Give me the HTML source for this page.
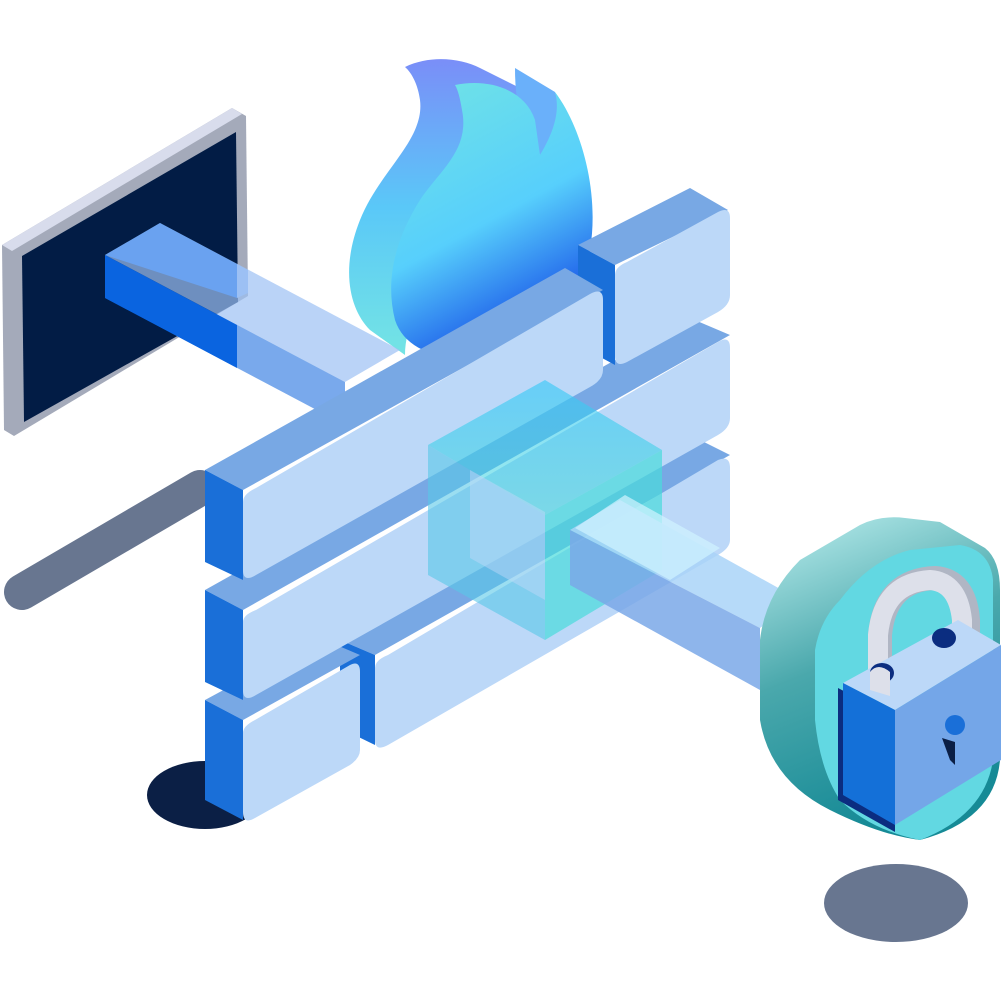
<!DOCTYPE html>
<html><head><meta charset="utf-8"><style>html,body{margin:0;padding:0;background:#fff}svg{display:block}</style></head><body>
<svg width="1001" height="1001" viewBox="0 0 1001 1001" xmlns="http://www.w3.org/2000/svg">
<defs>
<linearGradient id="fl" x1="0" y1="0" x2="0.4" y2="1"><stop offset="0" stop-color="#72e4e4"/><stop offset="0.6" stop-color="#57cffc"/><stop offset="1" stop-color="#1a55e8"/></linearGradient>
<linearGradient id="fb" x1="0" y1="0" x2="0" y2="1"><stop offset="0" stop-color="#7a8ef8"/><stop offset="0.5" stop-color="#5ac8f8"/><stop offset="1" stop-color="#74e4e4"/></linearGradient>
<linearGradient id="sh" x1="0" y1="0" x2="0.3" y2="1"><stop offset="0" stop-color="#bff0f0"/><stop offset="0.5" stop-color="#4aa8ac"/><stop offset="1" stop-color="#168a96"/></linearGradient>
<linearGradient id="cb" x1="0" y1="0" x2="0" y2="1"><stop offset="0" stop-color="#38c8f8" stop-opacity=".85"/><stop offset="1" stop-color="#40d8d8" stop-opacity=".7"/></linearGradient>
</defs>
<line x1="22" y1="592" x2="200" y2="488" stroke="#687690" stroke-width="36" stroke-linecap="round"/>
<ellipse cx="205" cy="795" rx="58" ry="34" fill="#0b1f45"/>
<ellipse cx="896" cy="903" rx="72" ry="39" fill="#687690"/>
<polygon points="2,245 232,108 246,116 248,296 14,436 4,430" fill="#a4aaba"/>
<polygon points="2,245 232,108 242,114 12,251" fill="#d8dcec"/>
<polygon points="22,256 236,132 238,302 24,422" fill="#021c45"/>
<path d="M405,67 C430,55 460,58 480,68 L520,88 L530,120 C500,150 470,180 450,230 C430,280 405,320 405,355 L370,330 C350,310 340,270 360,220 C380,170 425,140 420,100 C418,85 412,73 405,67Z" fill="url(#fb)"/>
<path d="M515,68 L555,92 C565,120 560,150 540,155 C520,130 515,100 515,68Z" fill="#6ab0fa"/>
<path d="M455,85 C490,78 525,90 535,120 L540,155 C555,130 560,110 555,92 C580,125 600,190 590,250 C580,300 540,340 480,355 C440,362 405,350 395,320 C385,280 395,240 420,200 C440,170 470,150 462,110 C460,98 458,90 455,85Z" fill="url(#fl)"/>
<!-- beam from monitor -->
<polygon points="105,255 160,223 400,350 345,382" fill="#9cc0f4" opacity=".7"/>
<polygon points="105,255 345,382 345,425 105,298" fill="#1f6fe0" opacity=".6"/>
<polygon points="105,255 160,223 237,264 237,298 " fill="#6aa2f0"/>
<polygon points="105,255 237,325 237,368 105,298" fill="#0a64e0"/>
<polygon points="237,298 237,264 248,270 248,293" fill="#9cc0f4"/>
<!-- wall row 3 -->
<polygon points="340,640 700,440 730,455 375,655" fill="#78a8e4"/>
<polygon points="340,640 375,655 375,745 340,728" fill="#1a6fd8"/>
<path d="M388,655 L718,460 Q730,455 730,468 L730,540 Q730,548 718,555 L388,745 Q375,752 375,740 L375,668 Q375,660 388,655Z" fill="#bcd8f8"/>
<polygon points="205,700 320,638 360,655 243,720" fill="#78a8e4"/>
<polygon points="205,700 243,720 243,820 205,800" fill="#1a6fd8"/>
<path d="M255,720 L350,665 Q360,660 360,672 L360,750 Q360,758 350,765 L255,818 Q243,825 243,812 L243,733 Q243,726 255,720Z" fill="#bcd8f8"/>
<polygon points="205,590 690,318 730,335 243,610" fill="#78a8e4"/>
<polygon points="205,590 243,610 243,700 205,682" fill="#1a6fd8"/>
<path d="M256,610 L718,342 Q730,335 730,348 L730,418 Q730,428 718,435 L256,695 Q243,703 243,690 L243,622 Q243,615 256,610Z" fill="#bcd8f8"/>
<polygon points="578,245 690,188 728,210 615,265" fill="#78a8e4"/>
<polygon points="578,245 615,265 615,365 578,345" fill="#1a6fd8"/>
<path d="M627,262 L718,212 Q730,206 730,218 L730,295 Q730,305 718,312 L627,362 Q615,368 615,356 L615,275 Q615,267 627,262Z" fill="#bcd8f8"/>
<polygon points="205,470 565,268 603,290 243,490" fill="#78a8e4"/>
<polygon points="205,470 243,490 243,580 205,562" fill="#1a6fd8"/>
<path d="M256,488 L590,294 Q603,287 603,300 L603,370 Q603,380 590,387 L256,575 Q243,583 243,570 L243,502 Q243,494 256,488Z" fill="#bcd8f8"/>
<!-- cube -->
<polygon points="428,445 545,380 662,450 545,515" fill="url(#cb)" opacity=".75"/>
<polygon points="428,445 545,515 545,640 428,575" fill="#58c8e8" opacity=".6"/>
<polygon points="545,515 662,450 662,570 545,640" fill="#48dcdc" opacity=".7"/>
<polygon points="470,470 545,512 545,600 470,558" fill="#bcd8f8" opacity=".5"/>
<!-- beam right -->
<polygon points="570,530 620,500 800,600 760,628" fill="#a9d4f8" opacity=".85"/>
<polygon points="570,530 760,628 760,690 570,585" fill="#7aa8e8" opacity=".85"/>
<polygon points="575,528 625,495 720,548 670,580" fill="#d0f4ff" opacity=".7"/>
<!-- lock -->
<path d="M800,560 L860,525 Q880,515 905,518 L940,522 L985,548 Q1000,560 1000,590 L1000,760 Q995,820 920,840 Q880,835 830,810 Q770,780 760,720 L760,640 Q765,595 800,560Z" fill="url(#sh)"/>
<path d="M840,600 Q870,560 910,550 L960,545 Q990,550 993,580 L993,760 Q985,815 920,840 Q870,830 840,800 Q820,770 815,720 L815,650 Q820,620 840,600Z" fill="#62d8e2"/>
<path d="M880,690 L880,635 Q885,580 935,578 Q965,580 968,620 L968,650" fill="none" stroke="#b0b6c4" stroke-width="24"/>
<path d="M878,690 L878,635 Q883,583 930,580 Q958,582 962,620 L962,650" fill="none" stroke="#dde0ea" stroke-width="20"/>
<polygon points="843,683 958,620 1001,645 895,710" fill="#bcd8f8"/>
<ellipse cx="882" cy="673" rx="12" ry="10" fill="#0b2d80"/>
<ellipse cx="944" cy="638" rx="12" ry="10" fill="#0b2d80"/>
<path d="M870,690 L870,672 Q878,662 890,672 L890,696Z" fill="#dde0ea"/>
<polygon points="838,688 895,718 895,832 838,800" fill="#0b2d80"/>
<polygon points="843,683 895,710 895,825 843,795" fill="#1470d8"/>
<polygon points="895,710 1001,645 1001,760 895,825" fill="#74a6e8"/>
<circle cx="955" cy="725" r="10" fill="#1a6fd8"/>
<polygon points="942,738 955,742 955,765 950,760" fill="#0b1f45"/>
</svg>
</body></html>
